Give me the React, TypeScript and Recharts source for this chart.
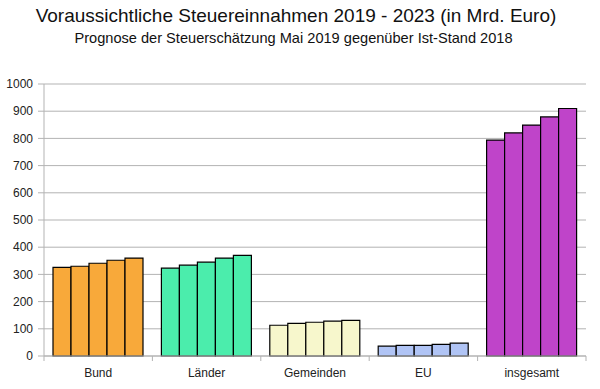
import React from "react";
import { BarChart, Bar, XAxis, YAxis, CartesianGrid, Cell } from "recharts";

const categories = ["Bund", "Länder", "Gemeinden", "EU", "insgesamt"];
const y2019 = [326, 323, 113, 36, 794];
const y2020 = [330, 334, 120, 39, 820];
const y2021 = [341, 345, 124, 39, 849];
const y2022 = [352, 360, 128, 43, 879];
const y2023 = [360, 370, 131, 47, 910];
const yTicks = [0, 100, 200, 300, 400, 500, 600, 700, 800, 900, 1000];
const colors = ["#f8a93a", "#4bedac", "#f7f7cc", "#b0c4f5", "#bf44c9"];

const data = categories.map((name, i) => ({
  name,
  y2019: y2019[i],
  y2020: y2020[i],
  y2021: y2021[i],
  y2022: y2022[i],
  y2023: y2023[i],
}));

const keys = ["y2019", "y2020", "y2021", "y2022", "y2023"];
const grid = "#b3b3b3";
const font = "'Liberation Sans', Arial, sans-serif";

function CatTick(props: any) {
  const { x, y, payload } = props;
  const half = payload.offset || 0;
  const top = y - 12;
  const last = payload.index === categories.length - 1;
  return (
    <g>
      <line x1={x - half} x2={x - half} y1={top} y2={top + 5} stroke={grid} />
      {last && <line x1={x + half} x2={x + half} y1={top} y2={top + 5} stroke={grid} />}
      <text x={x} y={y} dy={9} textAnchor="middle" fontSize={12} fill="#222" fontFamily={font}>
        {payload.value}
      </text>
    </g>
  );
}

export default function App() {
  return (
    <div style={{ position: "fixed", left: 0, top: 0, width: 600, height: 389, background: "#fff", fontFamily: font }}>
      <div style={{ position: "absolute", top: 5, left: 0, width: 592, textAlign: "center", fontSize: 19, color: "#111" }}>
        Voraussichtliche Steuereinnahmen 2019 - 2023 (in Mrd. Euro)
      </div>
      <div style={{ position: "absolute", top: 30, left: 0, width: 587, textAlign: "center", fontSize: 14.6, color: "#111" }}>
        Prognose der Steuerschätzung Mai 2019 gegenüber Ist-Stand 2018
      </div>
      <div style={{ position: "absolute", left: 0, top: 0 }}>
        <BarChart
          width={600}
          height={389}
          data={data}
          margin={{ top: 84, right: 14, bottom: 0, left: 0 }}
          barCategoryGap={9}
          barGap={0}
        >
          <CartesianGrid vertical={false} stroke={grid} />
          <XAxis
            dataKey="name"
            height={33}
            axisLine={{ stroke: grid }}
            tickLine={false}
            tickSize={5}
            tickMargin={7}
            tick={<CatTick />}
            interval={0}
          />
          <YAxis
            width={44}
            domain={[0, 1000]}
            ticks={yTicks}
            axisLine={{ stroke: grid }}
            tickLine={{ stroke: grid }}
            tickSize={6}
            tickMargin={5}
            tick={{ fontSize: 12, fill: "#222", fontFamily: font }}
          />
          <YAxis
            yAxisId="right"
            orientation="right"
            width={0}
            domain={[0, 1000]}
            tick={false}
            tickLine={false}
            axisLine={{ stroke: grid }}
          />
          {keys.map((k) => (
            <Bar key={k} dataKey={k} stroke="#000" strokeWidth={1.2} isAnimationActive={false}>
              {data.map((d, i) => (
                <Cell key={d.name} fill={colors[i]} />
              ))}
            </Bar>
          ))}
        </BarChart>
      </div>
    </div>
  );
}
